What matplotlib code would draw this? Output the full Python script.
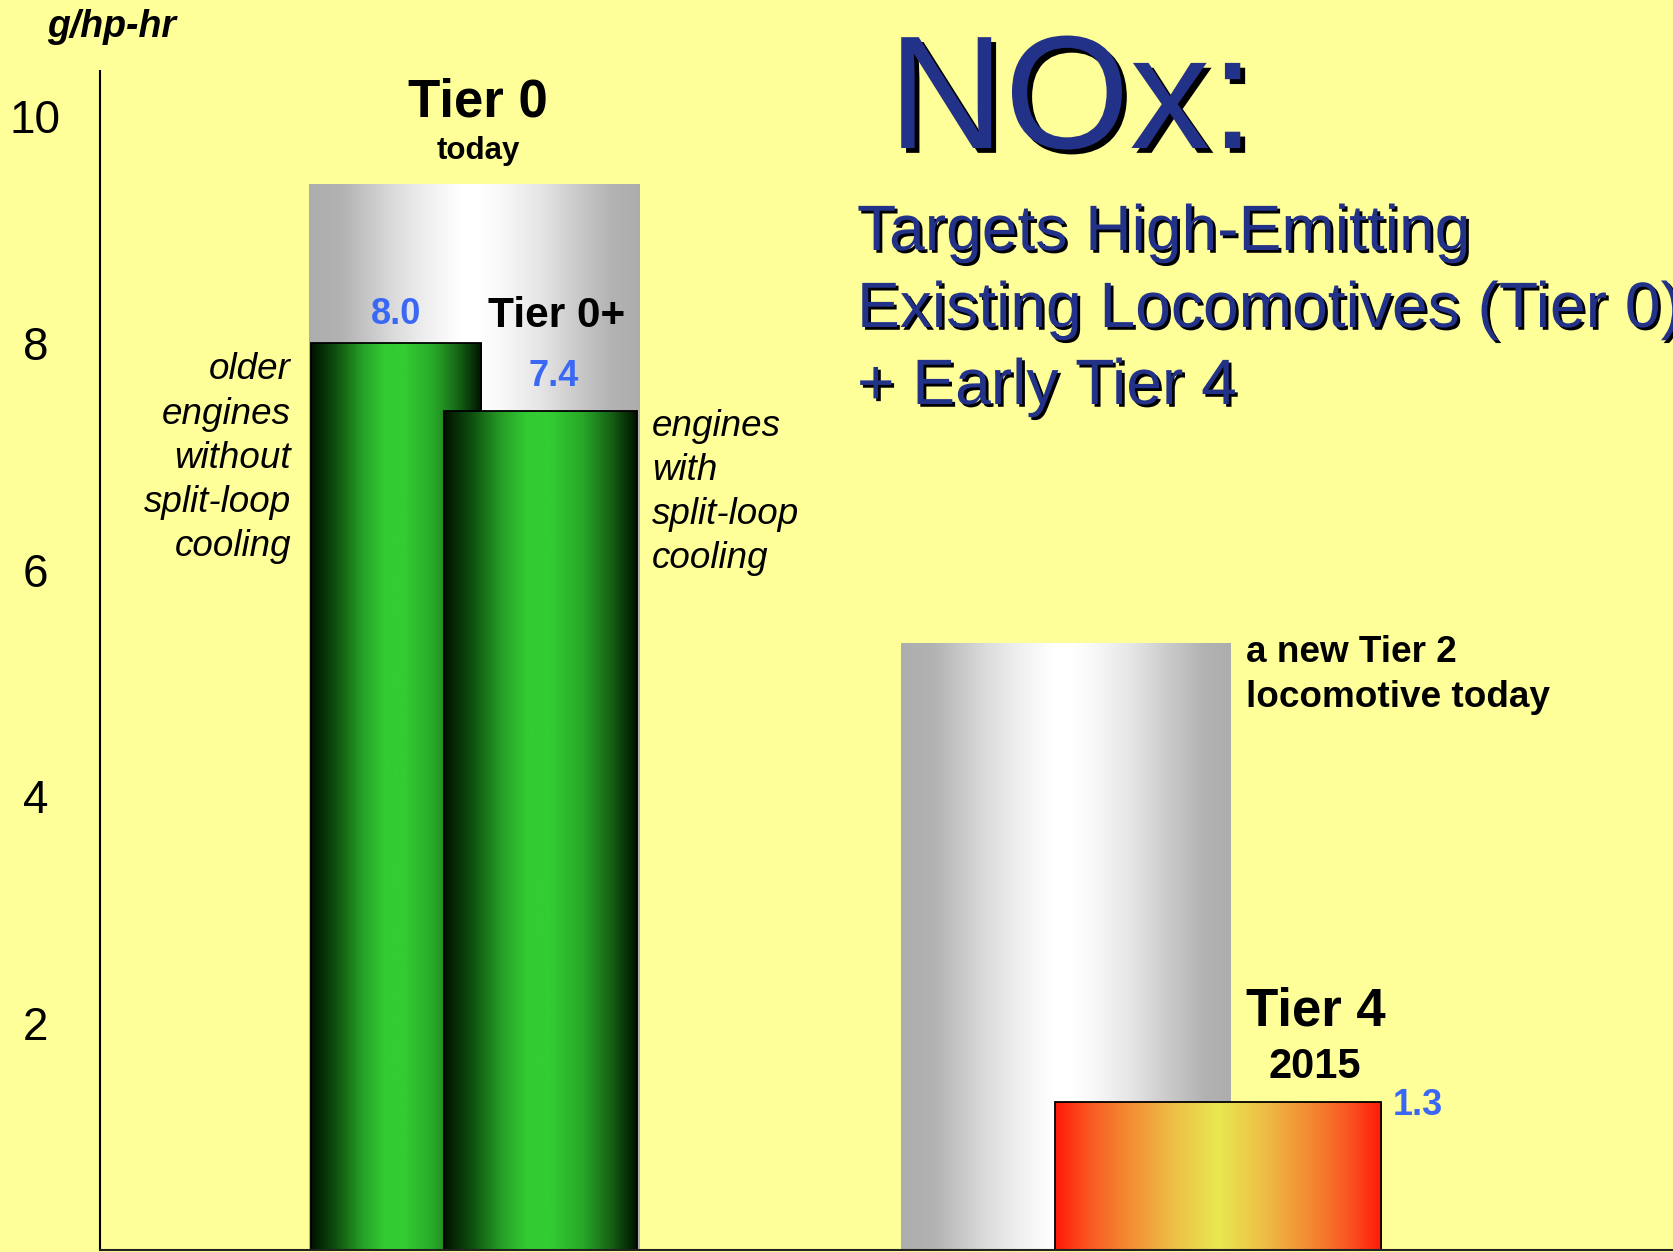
import numpy as np
import matplotlib
matplotlib.use("Agg")
import matplotlib.pyplot as plt
from matplotlib.colors import LinearSegmentedColormap
import matplotlib.patheffects as pe

# ---- data -------------------------------------------------------------
bar_names = ["Tier 0", "Tier 0 older", "Tier 0+", "Tier 2", "Tier 4"]
bar_values = [9.4, 8.0, 7.4, 5.35, 1.3]          # g/hp-hr
value_labels = {"Tier 0 older": "8.0", "Tier 0+": "7.4", "Tier 4": "1.3"}
y_ticks = [2, 4, 6, 8, 10]
y_tick_labels = ["2", "4", "6", "8", "10"]

# ---- layout -------------------------------------------------------------
W, H = 1673, 1252
FONT = "Liberation Sans"
BG = "#FFFF99"
NAVY = "#233289"
BLUE = "#3A68F5"

# bar left edges / widths on a pixel-like x scale
bar_left = [208.7, 210.4, 344.0, 800.7, 954.7]
bar_width = [331.0, 170.3, 192.4, 330.0, 326.3]
bar_style = ["gray", "green", "green", "gray", "heat"]

cmaps = {
    "gray": LinearSegmentedColormap.from_list("silver", [
        (0.00, (0.68,) * 3), (0.10, (0.70,) * 3), (0.25, (0.855,) * 3),
        (0.35, (0.935,) * 3), (0.46, (1.0,) * 3), (0.52, (1.0,) * 3),
        (0.58, (0.975,) * 3), (0.70, (0.90,) * 3), (0.82, (0.785,) * 3),
        (0.92, (0.70,) * 3), (1.00, (0.68,) * 3)]),
    "green": LinearSegmentedColormap.from_list("tube", [
        (0.00, "#001200"), (0.14, "#0e4e0e"), (0.30, "#26a026"),
        (0.43, "#33cc33"), (0.55, "#33cc33"), (0.72, "#28a828"),
        (0.87, "#156015"), (1.00, "#001200")]),
    "heat": LinearSegmentedColormap.from_list("heat", [
        (0.00, "#FF1A08"), (0.10, "#FA5523"), (0.20, "#F5822F"),
        (0.35, "#EEBB45"), (0.50, "#E8E850"), (0.65, "#EEBB45"),
        (0.80, "#F5822F"), (0.90, "#FA5523"), (1.00, "#FF1A08")]),
}
edge = {"gray": None, "green": "black", "heat": "black"}

fig = plt.figure(figsize=(W / 100, H / 100), dpi=100, facecolor=BG)
ax = fig.add_axes([100.3 / W, 2.5 / H, 1 - 100.3 / W, (1249.5 - 71) / H])
ax.set_facecolor(BG)

gradient = np.linspace(0, 1, 512)[None, :]
for i, (name, val, x0, w, style) in enumerate(
        zip(bar_names, bar_values, bar_left, bar_width, bar_style)):
    z = 2 + 0.1 * i
    bar = ax.bar(x0, val, width=w, align="edge", color="none",
                 edgecolor=edge[style] or "none",
                 linewidth=1.3 if edge[style] else 0, zorder=z + 0.05)[0]
    img = ax.imshow(gradient, extent=[x0, x0 + w, 0, val], aspect="auto",
                    cmap=cmaps[style], interpolation="bicubic", zorder=z)
    img.set_clip_path(bar)
    if name in value_labels:
        if name == "Tier 4":
            ax.annotate(value_labels[name], xy=(x0 + w, val), xytext=(8.6, -9.2),
                        textcoords="offset points", ha="left", va="baseline",
                        fontsize=26, fontweight="bold", color=BLUE, family=FONT)
        else:
            dx, dy = (0, 13.9) if name == "Tier 0 older" else (9.7, 18.0)
            ax.annotate(value_labels[name], xy=(x0 + w / 2, val), xytext=(dx, dy),
                        textcoords="offset points", ha="center", va="baseline",
                        fontsize=26, fontweight="bold", color=BLUE, family=FONT,
                        zorder=5)

ax.set_xlim(0, W - 100.3)
ax.set_ylim(0, 10.40)
ax.set_xticks([])
ax.set_yticks(y_ticks)
ax.set_yticklabels(y_tick_labels, fontsize=33, family=FONT)
for lbl in ax.get_yticklabels():
    lbl.set_horizontalalignment("center")
ax.tick_params(axis="y", length=0, pad=46.8)
for s in ("top", "right"):
    ax.spines[s].set_visible(False)
ax.spines["left"].set_linewidth(1.5)
ax.spines["bottom"].set_linewidth(1.5)
ax.spines["bottom"].set_color("#222222")
ax.spines["left"].set_zorder(4)
ax.spines["bottom"].set_zorder(4)


def ftext(x, y, s, **kw):
    kw.setdefault("family", FONT)
    kw.setdefault("va", "baseline")
    return fig.text(x / W, 1 - y / H, s, **kw)


# axis unit
ftext(47, 37, "g/hp-hr", fontsize=27, fontweight="bold", style="italic")

# group headings
ftext(478, 116.7, "Tier 0", fontsize=38, fontweight="bold", ha="center")
ftext(478, 159.3, "today", fontsize=22.5, fontweight="bold", ha="center")
ftext(488, 326.7, "Tier 0+", fontsize=30.5, fontweight="bold")
ftext(1246, 1025, "Tier 4", fontsize=38, fontweight="bold")
ftext(1315, 1078.3, "2015", fontsize=30, fontweight="bold", ha="center")
ftext(1246, 662, "a new Tier 2", fontsize=26.6, fontweight="bold")
ftext(1246, 707, "locomotive today", fontsize=26.6, fontweight="bold")

# italic bar descriptions
for line, yb in zip(["older", "engines", "without", "split-loop", "cooling"],
                    [379, 423.5, 468, 512, 556.5]):
    ftext(291, yb, line, fontsize=26.5, style="italic", ha="right")
for line, yb in zip(["engines", "with", "split-loop", "cooling"],
                    [436, 480, 524, 568]):
    ftext(652, yb, line, fontsize=26.5, style="italic", ha="left")

# title block with drop shadow
big_shadow = [pe.withSimplePatchShadow(offset=(3.5, -3.5), shadow_rgbFace="black", alpha=1.0)]
small_shadow = [pe.withSimplePatchShadow(offset=(2.0, -2.0), shadow_rgbFace="black", alpha=1.0)]
ftext(888, 148, "NOx:", fontsize=116, color=NAVY, path_effects=big_shadow)
for line, yb in zip(["Targets High-Emitting",
                     "Existing Locomotives (Tier 0)",
                     "+ Early Tier 4"], [250, 327, 404]):
    ftext(857, yb, line, fontsize=46.2, color=NAVY, path_effects=small_shadow)

fig.savefig("out.png", dpi=100, facecolor=BG)
